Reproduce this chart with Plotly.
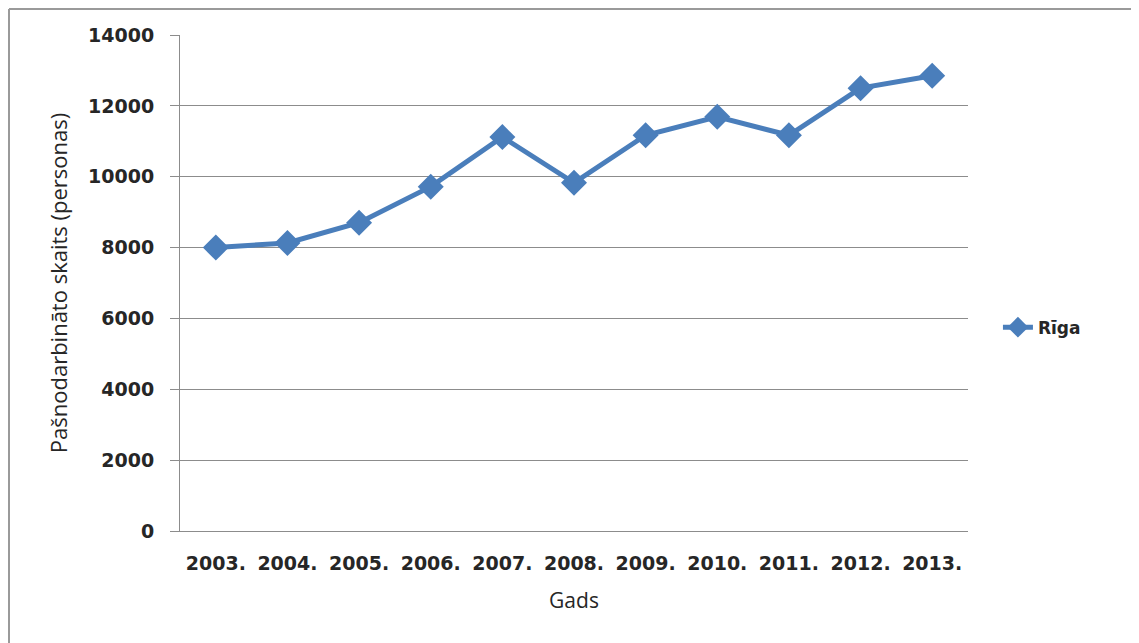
import plotly.graph_objects as go

years = ["2003.", "2004.", "2005.", "2006.", "2007.", "2008.", "2009.", "2010.", "2011.", "2012.", "2013."]
riga = [8000, 8130, 8700, 9720, 11120, 9830, 11170, 11690, 11170, 12500, 12850]
y_ticks = [0, 2000, 4000, 6000, 8000, 10000, 12000, 14000]
y_labels = ["0", "2000", "4000", "6000", "8000", "10000", "12000", "14000"]

blue = "#4A7EBB"
grid = "#8C8C8C"
tickfont = dict(family="DejaVu Sans", size=19, color="#262626", weight="bold")

L, R, T, B, W, H = 172, 179, 27, 120, 1139, 643
pw, ph = W - L - R, H - T - B

fig = go.Figure()
fig.add_trace(go.Scatter(
    x=years, y=riga, name="Rīga", mode="lines+markers",
    line=dict(color=blue, width=5),
    marker=dict(symbol="diamond", size=20, color=blue),
))

fig.update_layout(
    width=W, height=H,
    margin=dict(l=L, r=R, t=T, b=B),
    paper_bgcolor="white", plot_bgcolor="white",
    showlegend=True,
    legend=dict(x=1.038, y=0.41, xanchor="left", yanchor="middle",
                font=dict(family="DejaVu Sans", size=17, color="#262626", weight="bold"),
                bgcolor="rgba(0,0,0,0)", itemwidth=30),
    xaxis=dict(
        type="category", range=[-0.5, len(years) - 0.5], tickfont=tickfont, showgrid=False,
        showline=True, linecolor=grid, linewidth=1,
        ticks="", ticklabelstandoff=15,
        title=dict(text="Gads", font=dict(family="Open Sans", size=21, color="#262626"), standoff=20),
    ),
    yaxis=dict(
        range=[0, 14000], tickvals=y_ticks, ticktext=y_labels, tickfont=tickfont,
        showgrid=True, gridcolor=grid, gridwidth=1,
        showline=True, linecolor=grid, linewidth=1,
        ticks="outside", ticklen=9, tickcolor=grid, ticklabelstandoff=12,
        zeroline=False,
        title=dict(text="Pašnodarbināto skaits (personas)", font=dict(family="Open Sans", size=22, color="#262626"), standoff=14),
    ),
    shapes=[
        dict(type="line", xref="paper", yref="paper", x0=(1 - L) / pw, x1=1.3,
             y0=1 + (T - 1) / ph, y1=1 + (T - 1) / ph,
             line=dict(color="#9A9A9A", width=2)),
        dict(type="line", xref="paper", yref="paper", x0=(1 - L) / pw, x1=(1 - L) / pw,
             y0=-0.3, y1=1 + (T - 1) / ph,
             line=dict(color="#9A9A9A", width=2)),
    ],
)

fig.write_html("out.html")
